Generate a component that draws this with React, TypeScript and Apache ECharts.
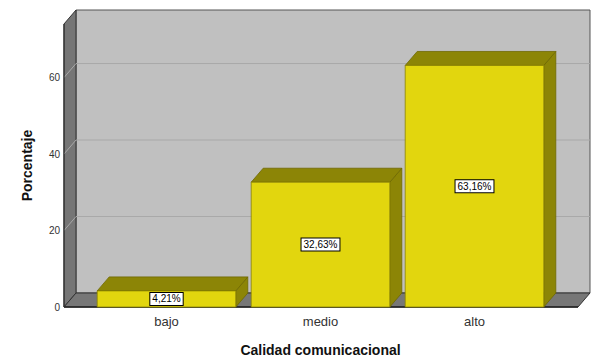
import React, { useEffect, useRef } from "react";
import * as echarts from "echarts";

const categories = ["bajo", "medio", "alto"];
const percentages = [4.21, 32.63, 63.16];
const percentLabels = ["4,21%", "32,63%", "63,16%"];
const yTicks = [0, 20, 40, 60];

const DX = 12;
const DY = 14;
const FONT = "'Liberation Sans', Arial, sans-serif";

export default function App() {
  const ref = useRef<HTMLDivElement>(null);
  useEffect(() => {
    if (!ref.current) return;
    const chart = echarts.init(ref.current, undefined, { renderer: "svg" });
    const option: any = {
      animation: false,
      backgroundColor: "#ffffff",
      grid: { left: 89.5, right: 39.5, top: 24, bottom: 54 },
      xAxis: {
        type: "category",
        data: categories,
        boundaryGap: true,
        axisLine: { show: false },
        axisTick: { show: false },
        splitLine: { show: false },
        axisLabel: { margin: 8, fontSize: 13, color: "#333", fontFamily: FONT },
        name: "Calidad comunicacional",
        nameLocation: "middle",
        nameGap: 36,
        nameTextStyle: { fontSize: 14, fontWeight: "bold", color: "#111", fontFamily: FONT },
      },
      yAxis: {
        type: "value",
        min: 0,
        max: 74,
        interval: 20,
        offset: 25.5,
        axisLine: { show: false },
        axisTick: { show: false },
        splitLine: { show: false },
        axisLabel: {
          margin: 4,
          fontSize: 10,
          color: "#333",
          fontFamily: FONT,
          showMaxLabel: false,
          formatter: (v: number) => (yTicks.includes(v) ? String(v) : ""),
        },
        name: "Porcentaje",
        nameLocation: "middle",
        nameGap: 30,
        nameRotate: 90,
        nameTextStyle: { fontSize: 14, fontWeight: "bold", color: "#111", fontFamily: FONT },
      },
      series: [
        {
          type: "custom",
          silent: true,
          z: 1,
          data: [[0, 0]],
          renderItem: (params: any, api: any) => {
            const cs = params.coordSys;
            const L = cs.x - 25.5;
            const R = cs.x + cs.width + 26.5;
            const T = cs.y;
            const B = cs.y + cs.height;
            const children: any[] = [];
            children.push({
              type: "rect",
              shape: { x: L + DX, y: T - DY, width: R - L, height: B - T },
              style: { fill: "#c0c0c0", stroke: "#555", lineWidth: 1 },
            });
            children.push({
              type: "polygon",
              shape: { points: [[L, T], [L + DX, T - DY], [L + DX, B - DY], [L, B]] },
              style: { fill: "#767676", stroke: "#333", lineWidth: 1 },
            });
            children.push({
              type: "polygon",
              shape: { points: [[L, B], [L + DX, B - DY], [R + DX, B - DY], [R, B]] },
              style: { fill: "#777777", stroke: "#333", lineWidth: 1 },
            });
            yTicks.slice(1).forEach((v) => {
              const y = api.coord([0, v])[1];
              children.push({
                type: "polyline",
                shape: { points: [[L, y], [L + DX, y - DY], [R + DX, y - DY]] },
                style: { stroke: "#a9a9a9", lineWidth: 1, fill: null },
              });
            });
            children.push({
              type: "line",
              shape: { x1: L, y1: B, x2: R, y2: B },
              style: { stroke: "#222", lineWidth: 1.5 },
            });
            children.push({
              type: "line",
              shape: { x1: L, y1: T, x2: L, y2: B },
              style: { stroke: "#333", lineWidth: 1.2 },
            });
            return { type: "group", children };
          },
        },
        {
          type: "custom",
          z: 2,
          data: percentages.map((v, i) => [i, v]),
          renderItem: (params: any, api: any) => {
            const idx = api.value(0);
            const val = api.value(1);
            const top = api.coord([idx, val]);
            const base = api.coord([idx, 0]);
            const bw = api.size([1, 0])[0] * 0.9;
            const x0 = top[0] - bw / 2;
            const x1 = top[0] + bw / 2;
            const yt = top[1];
            const yb = base[1];
            const edge = "#6e6800";
            return {
              type: "group",
              children: [
                {
                  type: "polygon",
                  shape: { points: [[x1, yt], [x1 + DX, yt - DY], [x1 + DX, yb - DY], [x1, yb]] },
                  style: { fill: "#8c8506", stroke: edge, lineWidth: 0.8 },
                },
                {
                  type: "polygon",
                  shape: { points: [[x0, yt], [x0 + DX, yt - DY], [x1 + DX, yt - DY], [x1, yt]] },
                  style: { fill: "#8c8506", stroke: edge, lineWidth: 0.8 },
                },
                {
                  type: "rect",
                  shape: { x: x0, y: yt, width: x1 - x0, height: yb - yt },
                  style: { fill: "#e2d60e", stroke: "#8a8300", lineWidth: 0.8 },
                },
                {
                  type: "text",
                  x: (x0 + x1) / 2,
                  y: (yt + yb) / 2,
                  style: {
                    text: percentLabels[params.dataIndex],
                    align: "center",
                    verticalAlign: "middle",
                    fontSize: 10,
                    fontFamily: FONT,
                    fill: "#000",
                    backgroundColor: "#ffffff",
                    borderColor: "#000",
                    borderWidth: 1,
                    padding: [1, 2, 1, 2],
                  },
                },
              ],
            };
          },
        },
      ],
    };
    chart.setOption(option);
    return () => chart.dispose();
  }, []);
  return (
    <div
      ref={ref}
      style={{ position: "fixed", left: 0, top: 0, width: 591, height: 362 }}
    />
  );
}
